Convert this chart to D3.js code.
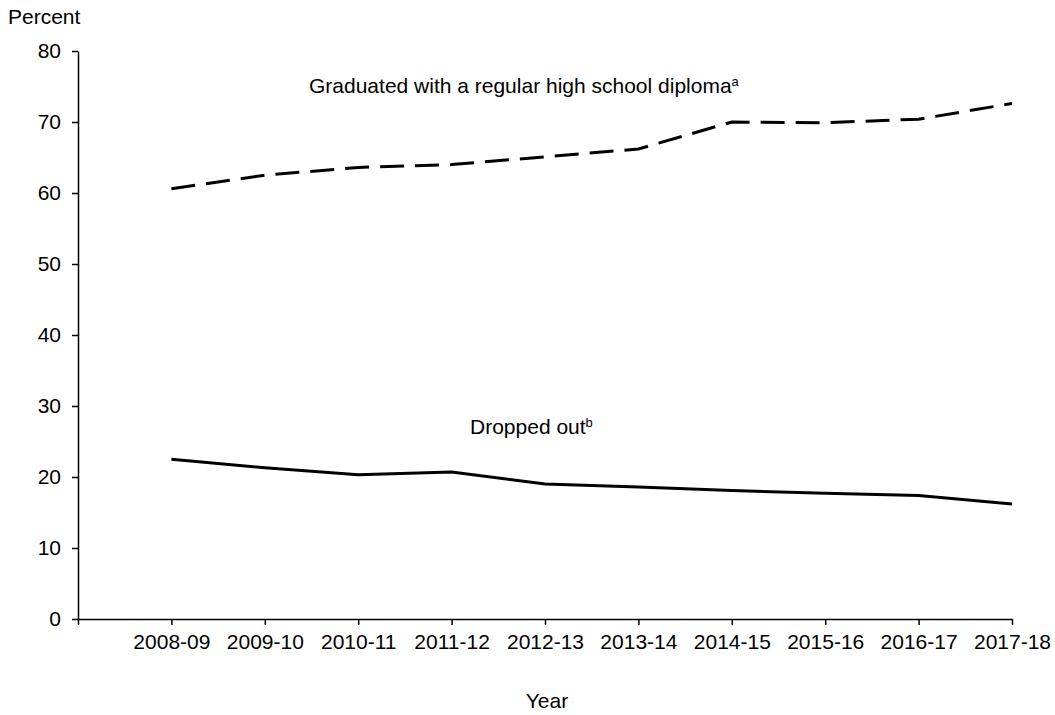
<!DOCTYPE html>
<meta charset="utf-8">
<style>
body { margin: 0; background: #fff; }
svg text { font-family: "Liberation Sans", Arial, sans-serif; fill: #000; }
.axis path, .axis line { stroke: #000; stroke-width: 1.5; fill: none; }
.axis text { font-size: 21px; }
</style>
<body>
<script src="https://d3js.org/d3.v7.min.js"></script>
<script>

var years = ["2008-09", "2009-10", "2010-11", "2011-12", "2012-13",
             "2013-14", "2014-15", "2015-16", "2016-17", "2017-18"];
var graduated = [60.6, 62.5, 63.6, 64.0, 65.1, 66.2, 70.0, 69.9, 70.4, 72.6];
var droppedOut = [22.5, 21.3, 20.3, 20.7, 19.0, 18.6, 18.1, 17.7, 17.4, 16.2];
var yTicks = [0, 10, 20, 30, 40, 50, 60, 70, 80];

var margin = {top: 51, right: 43, bottom: 96, left: 78},
    width = 1055 - margin.left - margin.right,
    height = 715 - margin.top - margin.bottom;

var svg = d3.select("body").append("svg")
    .attr("width", 1055)
    .attr("height", 715);

var chart = svg.append("g")
    .attr("transform", "translate(" + margin.left + "," + margin.top + ")");

// first category sits one step in from the axis
var x = d3.scaleLinear()
    .domain([-1, years.length - 1])
    .range([0, 934]);

var y = d3.scaleLinear()
    .domain([0, 80])
    .range([height, 0]);

var xAxis = d3.axisBottom(x)
    .tickValues(d3.range(-1, years.length))
    .tickSize(6)
    .tickSizeOuter(0)
    .tickFormat(function(i) { return i < 0 ? "" : years[i]; });

var yAxis = d3.axisLeft(y)
    .tickValues(yTicks)
    .tickSize(6)
    .tickSizeOuter(0);

chart.append("g")
    .attr("class", "x axis")
    .attr("transform", "translate(0," + height + ")")
    .call(xAxis)
    .selectAll("text")
    .attr("y", 9)
    .attr("dy", "21px");

chart.append("g")
    .attr("class", "y axis")
    .call(yAxis)
    .selectAll("text")
    .attr("x", -17);

var line = d3.line()
    .x(function(d, i) { return x(i); })
    .y(function(d) { return y(d); });

chart.append("path")
    .datum(graduated)
    .attr("fill", "none")
    .attr("stroke", "#000")
    .attr("stroke-width", 3)
    .attr("stroke-dasharray", "24,11")
    .attr("d", line);

chart.append("path")
    .datum(droppedOut)
    .attr("fill", "none")
    .attr("stroke", "#000")
    .attr("stroke-width", 3)
    .attr("d", line);

// labels
svg.append("text")
    .attr("x", 8)
    .attr("y", 24)
    .style("font-size", "21px")
    .text("Percent");

var g1 = svg.append("text")
    .attr("x", 309)
    .attr("y", 93)
    .style("font-size", "21px")
    .text("Graduated with a regular high school diploma");
g1.append("tspan")
    .attr("dy", "-7")
    .style("font-size", "13px")
    .text("a");

var g2 = svg.append("text")
    .attr("x", 470)
    .attr("y", 434)
    .style("font-size", "21px")
    .text("Dropped out");
g2.append("tspan")
    .attr("dy", "-7")
    .style("font-size", "13px")
    .text("b");

svg.append("text")
    .attr("x", 547)
    .attr("y", 708)
    .attr("text-anchor", "middle")
    .style("font-size", "21px")
    .text("Year");

</script>
</body>
